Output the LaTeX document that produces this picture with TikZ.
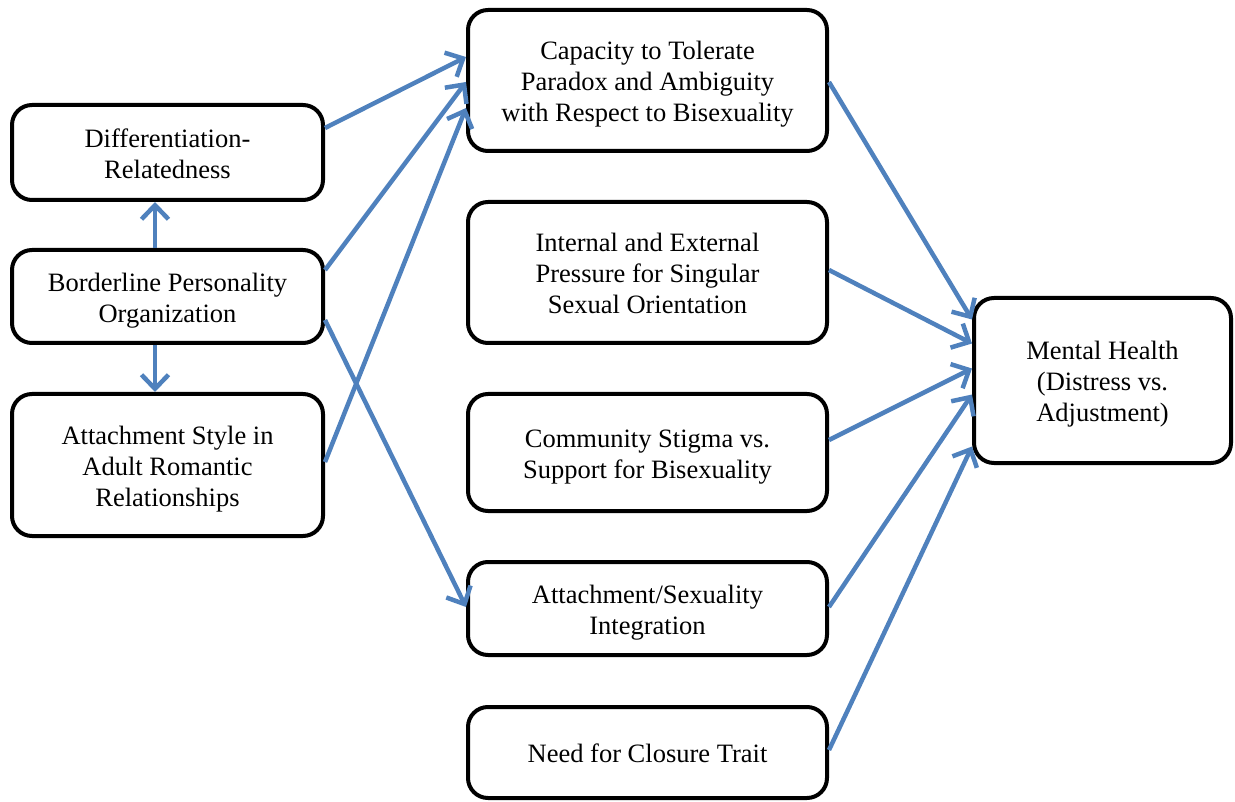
\documentclass[tikz,border=0pt]{standalone}
\usepackage{fontspec}
\setmainfont{Liberation Serif}
\usetikzlibrary{arrows.meta}
\definecolor{linkblue}{HTML}{4F81BD}
% centred block of lines, set a little low in its box
\newcommand{\boxlines}[1]{\raisebox{-4pt}[\height][\depth]{\begin{tabular}{@{}c@{}}#1\end{tabular}}}
\begin{document}
\begin{tikzpicture}[x=1pt,y=-1pt,
  box/.style={draw=black,line width=4pt,rounded corners=20pt,fill=white,
    align=center,inner sep=0pt,font=\fontsize{26.5}{31}\selectfont},
  link/.style={draw=linkblue,line width=4.5pt,
    -{Straight Barb[length=14pt,width=27pt,line width=4.5pt]}}]
\useasboundingbox (0,0) rectangle (1235,802);
% left column
\node[box,minimum width=311pt,minimum height=95pt] (diff) at (167.5,152.5)
  {\boxlines{Differentiation-\\Relatedness}};
\node[box,minimum width=311pt,minimum height=93pt] (bpo) at (167.5,296.5)
  {\boxlines{Borderline Personality\\Organization}};
\node[box,minimum width=311pt,minimum height=142pt] (att) at (167.5,465)
  {\boxlines{Attachment Style in\\Adult Romantic\\Relationships}};
% middle column
\node[box,minimum width=359pt,minimum height=141pt] (cap) at (647.5,80.5)
  {\boxlines{Capacity to Tolerate\\Paradox and Ambiguity\\with Respect to Bisexuality}};
\node[box,minimum width=359pt,minimum height=141pt] (press) at (647.5,272.5)
  {\boxlines{Internal and External\\Pressure for Singular\\Sexual Orientation}};
\node[box,minimum width=359pt,minimum height=117pt] (stig) at (647.5,452.5)
  {\boxlines{Community Stigma vs.\\Support for Bisexuality}};
\node[box,minimum width=359pt,minimum height=93pt] (integ) at (647.5,608.5)
  {\boxlines{Attachment/Sexuality\\Integration}};
\node[box,minimum width=359pt,minimum height=91pt] (clos) at (647.5,752.5)
  {\boxlines{Need for Closure Trait}};
% outcome
\node[box,minimum width=257pt,minimum height=165pt] (mh) at (1102.5,380.5)
  {\boxlines{Mental Health\\(Distress vs.\\Adjustment)}};
% vertical links from the central left box
\draw[link] ([xshift=-12.5pt]bpo.north) -- ([xshift=-12.5pt]diff.south);
\draw[link] ([xshift=-12.5pt]bpo.south) -- ([xshift=-12.5pt]att.north);
% left to middle
\draw[link] ([yshift=24.5pt]diff.east) -- ([yshift=23.5pt]cap.west);
\draw[link] ([yshift=26.5pt]bpo.east) -- ([yshift=-1.5pt]cap.west);
\draw[link] ([yshift=3pt]att.east) -- ([yshift=-27.5pt]cap.west);
\draw[link] ([yshift=-23.5pt]bpo.east) -- ([yshift=1.5pt]integ.west);
% middle to outcome
\draw[link] ([yshift=-1.5pt]cap.east) -- ([yshift=61pt]mh.west);
\draw[link] ([yshift=2.5pt]press.east) -- ([yshift=37pt]mh.west);
\draw[link] ([yshift=12.5pt]stig.east) -- ([yshift=12pt]mh.west);
\draw[link] ([yshift=1.5pt]integ.east) -- ([yshift=-14pt]mh.west);
\draw[link] ([yshift=2.5pt]clos.east) -- ([yshift=-66pt]mh.west);
\end{tikzpicture}
\end{document}
